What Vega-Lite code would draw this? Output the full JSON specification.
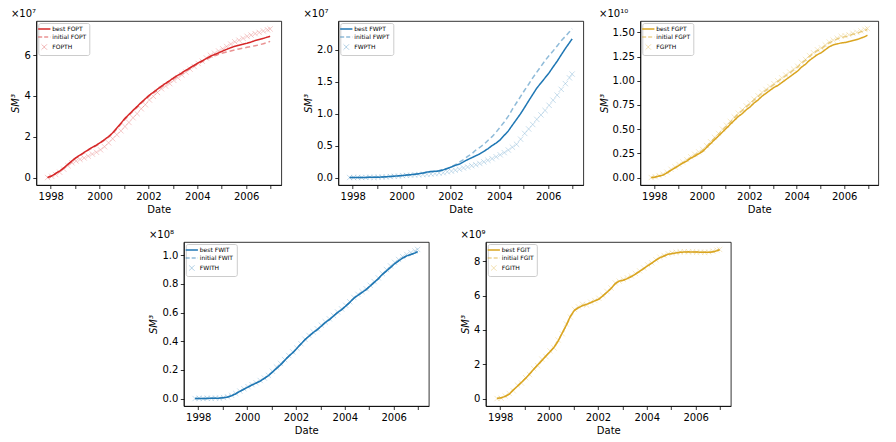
{
"$schema": "https://vega.github.io/schema/vega-lite/v6.json",
"padding": {"left": 10, "top": 8, "right": 5, "bottom": 5},
"datasets": {"w": [
{"d":"1997-11-15","a1":0,"b1":0,"c1":0,"a2":0,"b2":0,"c2":0,"a3":0,"b3":0,"c3":0,"a4":0,"b4":0,"c4":0,"a5":0,"b5":0,"c5":0},
{"d":"1998-01-15","a1":0.08,"b1":0.07,"c1":0.06,"a2":0,"b2":0,"c2":0,"a3":0.005,"b3":0,"c3":0.008,"a4":0,"b4":0,"c4":0.002,"a5":0.05,"b5":0.05,"c5":0.02},
{"d":"1998-03-15","a1":0.2,"b1":0.19,"c1":0.15,"a2":0,"b2":0,"c2":0.002,"a3":0.015,"b3":0.012,"c3":0.02,"a4":0,"b4":0,"c4":0,"a5":0.12,"b5":0.12,"c5":0.15},
{"d":"1998-05-15","a1":0.32,"b1":0.31,"c1":0.26,"a2":0.001,"b2":0.001,"c2":0,"a3":0.025,"b3":0.027,"c3":0.035,"a4":0.001,"b4":0.001,"c4":0.003,"a5":0.25,"b5":0.25,"c5":0.3},
{"d":"1998-07-15","a1":0.47,"b1":0.46,"c1":0.41,"a2":0.002,"b2":0.002,"c2":0.003,"a3":0.05,"b3":0.047,"c3":0.055,"a4":0.002,"b4":0.002,"c4":0.001,"a5":0.5,"b5":0.5,"c5":0.45},
{"d":"1998-09-15","a1":0.65,"b1":0.63,"c1":0.58,"a2":0.003,"b2":0.003,"c2":0.004,"a3":0.075,"b3":0.077,"c3":0.085,"a4":0.002,"b4":0.002,"c4":0.004,"a5":0.72,"b5":0.72,"c5":0.78},
{"d":"1998-11-15","a1":0.82,"b1":0.8,"c1":0.72,"a2":0.004,"b2":0.004,"c2":0.002,"a3":0.1,"b3":0.1,"c3":0.11,"a4":0.003,"b4":0.003,"c4":0.002,"a5":0.95,"b5":0.95,"c5":0.9},
{"d":"1999-01-15","a1":0.98,"b1":0.96,"c1":0.81,"a2":0.005,"b2":0.005,"c2":0.006,"a3":0.125,"b3":0.125,"c3":0.135,"a4":0.006,"b4":0.006,"c4":0.007,"a5":1.18,"b5":1.18,"c5":1.22},
{"d":"1999-03-15","a1":1.1,"b1":1.08,"c1":0.89,"a2":0.008,"b2":0.008,"c2":0.008,"a3":0.15,"b3":0.15,"c3":0.16,"a4":0.01,"b4":0.01,"c4":0.012,"a5":1.43,"b5":1.43,"c5":1.4},
{"d":"1999-05-15","a1":1.23,"b1":1.21,"c1":0.96,"a2":0.012,"b2":0.012,"c2":0.01,"a3":0.17,"b3":0.175,"c3":0.185,"a4":0.02,"b4":0.02,"c4":0.022,"a5":1.7,"b5":1.7,"c5":1.75},
{"d":"1999-07-15","a1":1.36,"b1":1.34,"c1":1.05,"a2":0.016,"b2":0.016,"c2":0.015,"a3":0.2,"b3":0.205,"c3":0.215,"a4":0.033,"b4":0.033,"c4":0.036,"a5":1.96,"b5":1.96,"c5":1.92},
{"d":"1999-09-15","a1":1.48,"b1":1.46,"c1":1.15,"a2":0.021,"b2":0.021,"c2":0.02,"a3":0.22,"b3":0.23,"c3":0.24,"a4":0.05,"b4":0.05,"c4":0.052,"a5":2.22,"b5":2.22,"c5":2.3},
{"d":"1999-11-15","a1":1.59,"b1":1.57,"c1":1.24,"a2":0.026,"b2":0.026,"c2":0.022,"a3":0.245,"b3":0.255,"c3":0.265,"a4":0.065,"b4":0.065,"c4":0.068,"a5":2.48,"b5":2.48,"c5":2.45},
{"d":"2000-01-15","a1":1.72,"b1":1.69,"c1":1.36,"a2":0.031,"b2":0.031,"c2":0.03,"a3":0.27,"b3":0.28,"c3":0.29,"a4":0.08,"b4":0.08,"c4":0.083,"a5":2.73,"b5":2.73,"c5":2.78},
{"d":"2000-03-15","a1":1.86,"b1":1.83,"c1":1.51,"a2":0.038,"b2":0.038,"c2":0.034,"a3":0.31,"b3":0.32,"c3":0.33,"a4":0.095,"b4":0.095,"c4":0.097,"a5":3.0,"b5":3.0,"c5":2.95},
{"d":"2000-05-15","a1":2.01,"b1":1.98,"c1":1.7,"a2":0.044,"b2":0.044,"c2":0.038,"a3":0.35,"b3":0.36,"c3":0.37,"a4":0.108,"b4":0.108,"c4":0.11,"a5":3.35,"b5":3.35,"c5":3.42},
{"d":"2000-07-15","a1":2.19,"b1":2.16,"c1":1.9,"a2":0.051,"b2":0.051,"c2":0.041,"a3":0.39,"b3":0.405,"c3":0.415,"a4":0.122,"b4":0.122,"c4":0.126,"a5":3.82,"b5":3.82,"c5":3.78},
{"d":"2000-09-15","a1":2.43,"b1":2.39,"c1":2.1,"a2":0.06,"b2":0.06,"c2":0.045,"a3":0.43,"b3":0.445,"c3":0.455,"a4":0.14,"b4":0.14,"c4":0.143,"a5":4.28,"b5":4.28,"c5":4.35},
{"d":"2000-11-15","a1":2.66,"b1":2.62,"c1":2.29,"a2":0.07,"b2":0.07,"c2":0.048,"a3":0.47,"b3":0.49,"c3":0.5,"a4":0.16,"b4":0.16,"c4":0.162,"a5":4.8,"b5":4.8,"c5":4.75},
{"d":"2001-01-15","a1":2.9,"b1":2.86,"c1":2.5,"a2":0.085,"b2":0.08,"c2":0.05,"a3":0.51,"b3":0.53,"c3":0.54,"a4":0.185,"b4":0.185,"c4":0.19,"a5":5.15,"b5":5.15,"c5":5.2},
{"d":"2001-03-15","a1":3.09,"b1":3.05,"c1":2.7,"a2":0.095,"b2":0.09,"c2":0.055,"a3":0.55,"b3":0.57,"c3":0.58,"a4":0.21,"b4":0.21,"c4":0.22,"a5":5.3,"b5":5.3,"c5":5.35},
{"d":"2001-05-15","a1":3.29,"b1":3.25,"c1":2.93,"a2":0.097,"b2":0.1,"c2":0.062,"a3":0.59,"b3":0.615,"c3":0.625,"a4":0.235,"b4":0.235,"c4":0.245,"a5":5.42,"b5":5.42,"c5":5.5},
{"d":"2001-07-15","a1":3.48,"b1":3.44,"c1":3.13,"a2":0.102,"b2":0.11,"c2":0.07,"a3":0.63,"b3":0.655,"c3":0.665,"a4":0.265,"b4":0.265,"c4":0.272,"a5":5.5,"b5":5.5,"c5":5.45},
{"d":"2001-09-15","a1":3.68,"b1":3.64,"c1":3.37,"a2":0.12,"b2":0.125,"c2":0.075,"a3":0.66,"b3":0.69,"c3":0.7,"a4":0.295,"b4":0.295,"c4":0.3,"a5":5.6,"b5":5.6,"c5":5.62},
{"d":"2001-11-15","a1":3.86,"b1":3.82,"c1":3.57,"a2":0.14,"b2":0.145,"c2":0.09,"a3":0.7,"b3":0.73,"c3":0.74,"a4":0.32,"b4":0.32,"c4":0.325,"a5":5.7,"b5":5.7,"c5":5.72},
{"d":"2002-01-15","a1":4.04,"b1":4.0,"c1":3.8,"a2":0.165,"b2":0.17,"c2":0.1,"a3":0.73,"b3":0.76,"c3":0.77,"a4":0.35,"b4":0.35,"c4":0.352,"a5":5.8,"b5":5.8,"c5":5.85},
{"d":"2002-03-15","a1":4.18,"b1":4.14,"c1":3.98,"a2":0.19,"b2":0.2,"c2":0.115,"a3":0.77,"b3":0.8,"c3":0.81,"a4":0.38,"b4":0.38,"c4":0.383,"a5":5.99,"b5":5.99,"c5":6.02},
{"d":"2002-05-15","a1":4.33,"b1":4.29,"c1":4.17,"a2":0.21,"b2":0.24,"c2":0.13,"a3":0.8,"b3":0.835,"c3":0.845,"a4":0.41,"b4":0.41,"c4":0.414,"a5":6.2,"b5":6.2,"c5":6.25},
{"d":"2002-07-15","a1":4.48,"b1":4.44,"c1":4.35,"a2":0.245,"b2":0.28,"c2":0.15,"a3":0.84,"b3":0.87,"c3":0.88,"a4":0.435,"b4":0.435,"c4":0.44,"a5":6.42,"b5":6.42,"c5":6.45},
{"d":"2002-09-15","a1":4.62,"b1":4.58,"c1":4.48,"a2":0.28,"b2":0.33,"c2":0.165,"a3":0.87,"b3":0.9,"c3":0.91,"a4":0.46,"b4":0.46,"c4":0.465,"a5":6.7,"b5":6.7,"c5":6.75},
{"d":"2002-11-15","a1":4.75,"b1":4.71,"c1":4.6,"a2":0.31,"b2":0.37,"c2":0.185,"a3":0.9,"b3":0.93,"c3":0.94,"a4":0.48,"b4":0.48,"c4":0.487,"a5":6.86,"b5":6.86,"c5":6.85},
{"d":"2003-01-15","a1":4.89,"b1":4.85,"c1":4.76,"a2":0.34,"b2":0.43,"c2":0.2,"a3":0.93,"b3":0.96,"c3":0.97,"a4":0.505,"b4":0.505,"c4":0.512,"a5":6.9,"b5":6.9,"c5":6.95},
{"d":"2003-03-15","a1":5.01,"b1":4.97,"c1":4.89,"a2":0.37,"b2":0.47,"c2":0.22,"a3":0.95,"b3":0.99,"c3":1.0,"a4":0.53,"b4":0.53,"c4":0.535,"a5":7.0,"b5":7.0,"c5":7.05},
{"d":"2003-05-15","a1":5.13,"b1":5.09,"c1":5.03,"a2":0.41,"b2":0.52,"c2":0.245,"a3":0.98,"b3":1.02,"c3":1.03,"a4":0.55,"b4":0.55,"c4":0.556,"a5":7.12,"b5":7.12,"c5":7.15},
{"d":"2003-07-15","a1":5.26,"b1":5.22,"c1":5.17,"a2":0.45,"b2":0.58,"c2":0.27,"a3":1.01,"b3":1.05,"c3":1.06,"a4":0.575,"b4":0.575,"c4":0.58,"a5":7.26,"b5":7.26,"c5":7.3},
{"d":"2003-09-15","a1":5.38,"b1":5.34,"c1":5.31,"a2":0.5,"b2":0.64,"c2":0.295,"a3":1.04,"b3":1.08,"c3":1.09,"a4":0.6,"b4":0.6,"c4":0.604,"a5":7.42,"b5":7.42,"c5":7.45},
{"d":"2003-11-15","a1":5.5,"b1":5.46,"c1":5.44,"a2":0.54,"b2":0.71,"c2":0.325,"a3":1.07,"b3":1.11,"c3":1.12,"a4":0.62,"b4":0.62,"c4":0.625,"a5":7.58,"b5":7.58,"c5":7.62},
{"d":"2004-01-15","a1":5.62,"b1":5.58,"c1":5.59,"a2":0.59,"b2":0.79,"c2":0.355,"a3":1.1,"b3":1.14,"c3":1.15,"a4":0.645,"b4":0.645,"c4":0.65,"a5":7.75,"b5":7.75,"c5":7.8},
{"d":"2004-03-15","a1":5.72,"b1":5.68,"c1":5.7,"a2":0.66,"b2":0.87,"c2":0.39,"a3":1.14,"b3":1.18,"c3":1.19,"a4":0.67,"b4":0.67,"c4":0.675,"a5":7.9,"b5":7.9,"c5":7.92},
{"d":"2004-05-15","a1":5.83,"b1":5.79,"c1":5.86,"a2":0.73,"b2":0.96,"c2":0.43,"a3":1.17,"b3":1.21,"c3":1.22,"a4":0.7,"b4":0.7,"c4":0.705,"a5":8.07,"b5":8.07,"c5":8.1},
{"d":"2004-07-15","a1":5.94,"b1":5.89,"c1":5.99,"a2":0.82,"b2":1.07,"c2":0.475,"a3":1.21,"b3":1.25,"c3":1.26,"a4":0.72,"b4":0.72,"c4":0.727,"a5":8.22,"b5":8.22,"c5":8.25},
{"d":"2004-09-15","a1":6.03,"b1":5.97,"c1":6.09,"a2":0.91,"b2":1.17,"c2":0.52,"a3":1.24,"b3":1.28,"c3":1.29,"a4":0.74,"b4":0.74,"c4":0.746,"a5":8.32,"b5":8.32,"c5":8.35},
{"d":"2004-11-15","a1":6.11,"b1":6.04,"c1":6.2,"a2":1.0,"b2":1.27,"c2":0.6,"a3":1.27,"b3":1.31,"c3":1.32,"a4":0.76,"b4":0.76,"c4":0.766,"a5":8.42,"b5":8.42,"c5":8.45},
{"d":"2005-01-15","a1":6.2,"b1":6.1,"c1":6.31,"a2":1.1,"b2":1.37,"c2":0.69,"a3":1.29,"b3":1.33,"c3":1.34,"a4":0.785,"b4":0.785,"c4":0.79,"a5":8.46,"b5":8.46,"c5":8.5},
{"d":"2005-03-15","a1":6.28,"b1":6.15,"c1":6.42,"a2":1.2,"b2":1.46,"c2":0.76,"a3":1.32,"b3":1.36,"c3":1.37,"a4":0.81,"b4":0.81,"c4":0.816,"a5":8.5,"b5":8.5,"c5":8.53},
{"d":"2005-05-15","a1":6.36,"b1":6.2,"c1":6.54,"a2":1.3,"b2":1.56,"c2":0.83,"a3":1.35,"b3":1.39,"c3":1.4,"a4":0.835,"b4":0.835,"c4":0.842,"a5":8.53,"b5":8.53,"c5":8.55},
{"d":"2005-07-15","a1":6.43,"b1":6.25,"c1":6.65,"a2":1.4,"b2":1.65,"c2":0.91,"a3":1.37,"b3":1.41,"c3":1.42,"a4":0.865,"b4":0.865,"c4":0.872,"a5":8.55,"b5":8.55,"c5":8.57},
{"d":"2005-09-15","a1":6.48,"b1":6.3,"c1":6.73,"a2":1.48,"b2":1.74,"c2":0.98,"a3":1.38,"b3":1.43,"c3":1.44,"a4":0.89,"b4":0.89,"c4":0.9,"a5":8.56,"b5":8.56,"c5":8.56},
{"d":"2005-11-15","a1":6.53,"b1":6.34,"c1":6.82,"a2":1.56,"b2":1.83,"c2":1.05,"a3":1.39,"b3":1.45,"c3":1.46,"a4":0.915,"b4":0.915,"c4":0.925,"a5":8.55,"b5":8.55,"c5":8.56},
{"d":"2006-01-15","a1":6.58,"b1":6.38,"c1":6.92,"a2":1.64,"b2":1.91,"c2":1.13,"a3":1.395,"b3":1.455,"c3":1.465,"a4":0.94,"b4":0.94,"c4":0.95,"a5":8.55,"b5":8.55,"c5":8.54},
{"d":"2006-03-15","a1":6.64,"b1":6.42,"c1":6.98,"a2":1.73,"b2":1.98,"c2":1.21,"a3":1.405,"b3":1.465,"c3":1.475,"a4":0.96,"b4":0.96,"c4":0.97,"a5":8.54,"b5":8.54,"c5":8.55},
{"d":"2006-05-15","a1":6.71,"b1":6.46,"c1":7.05,"a2":1.82,"b2":2.06,"c2":1.29,"a3":1.415,"b3":1.48,"c3":1.49,"a4":0.98,"b4":0.98,"c4":0.99,"a5":8.54,"b5":8.54,"c5":8.53},
{"d":"2006-07-15","a1":6.76,"b1":6.5,"c1":7.11,"a2":1.92,"b2":2.14,"c2":1.38,"a3":1.425,"b3":1.49,"c3":1.5,"a4":0.995,"b4":0.995,"c4":1.005,"a5":8.53,"b5":8.53,"c5":8.55},
{"d":"2006-09-15","a1":6.82,"b1":6.56,"c1":7.18,"a2":2.02,"b2":2.21,"c2":1.47,"a3":1.44,"b3":1.505,"c3":1.515,"a4":1.005,"b4":1.005,"c4":1.018,"a5":8.56,"b5":8.56,"c5":8.6},
{"d":"2006-11-15","a1":6.88,"b1":6.62,"c1":7.24,"a2":2.11,"b2":2.28,"c2":1.56,"a3":1.455,"b3":1.52,"c3":1.53,"a4":1.015,"b4":1.015,"c4":1.03,"a5":8.63,"b5":8.63,"c5":8.66},
{"d":"2006-12-25","a1":6.92,"b1":6.67,"c1":7.28,"a2":2.17,"b2":2.33,"c2":1.62,"a3":1.47,"b3":1.53,"c3":1.54,"a4":1.025,"b4":1.025,"c4":1.04,"a5":8.68,"b5":8.68,"c5":8.7}
]},
"config": {
  "font": "DejaVu Sans",
  "view": {"stroke": "#000", "strokeWidth": 0.8},
  "axis": {"grid": false, "domainColor": "#000", "domainWidth": 0.8, "tickColor": "#000", "tickWidth": 0.8, "tickSize": 3.5, "labelFontSize": 10, "labelColor": "#000", "labelFont": "DejaVu Sans", "titleFont": "DejaVu Sans", "titleFontSize": 10, "titleFontWeight": "normal", "titleColor": "#000", "labelPadding": 2.5, "titlePadding": 3},
  "title": {"anchor": "start", "fontSize": 10, "fontWeight": "normal", "font": "DejaVu Sans", "offset": 2, "color": "#000"},
  "legend": {"orient": "top-left", "offset": 2, "padding": 3, "strokeColor": "#cccccc", "fillColor": "rgba(255,255,255,0.8)", "cornerRadius": 2, "labelFontSize": 6, "labelFont": "DejaVu Sans", "labelColor": "#000", "symbolSize": 150, "symbolStrokeWidth": 1.5, "rowPadding": 2, "labelOffset": 5}
},
"resolve": {"scale": {"color": "independent", "strokeDash": "independent", "x": "independent", "y": "independent"}, "legend": {"color": "independent", "strokeDash": "independent"}},
"spacing": 14,
"center": true,
"vconcat": [
{"hconcat": [
 {"width": 245, "height": 164, "title": {"text": "×10⁷"}, "data": {"name": "w"},
  "transform": [{"fold": ["a1", "b1", "c1"], "as": ["s", "v"]}],
  "encoding": {
   "x": {"field": "d", "type": "temporal", "title": "Date", "scale": {"domain": [{"year": 1997, "month": 5, "date": 30}, {"year": 2007, "month": 6, "date": 10}]}, "axis": {"tickCount": {"interval": "year", "step": 1}, "format": "%Y", "labelExpr": "year(datum.value) % 2 == 0 ? datum.label : ''", "labelOverlap": false, "labelFlush": false}},
   "y": {"field": "v", "type": "quantitative", "title": "SM³", "scale": {"domain": [-0.365, 7.67], "nice": false, "zero": false}, "axis": {"values": [0, 2, 4, 6], "format": "d", "titleFontStyle": "italic"}},
   "color": {"field": "s", "type": "nominal", "scale": {"domain": ["a1", "b1", "c1"], "range": ["#d62728", "rgba(214,39,40,0.5)", "rgba(214,39,40,0.35)"]},
     "legend": {"title": null, "labelExpr": "datum.value == 'a1' ? 'best FOPT' : datum.value == 'b1' ? 'initial FOPT' : 'FOPTH'",
       "encode": {"symbols": {"update": {"shape": {"signal": "datum.value == 'c1' ? 'M-1,-1L1,1M-1,1L1,-1' : 'stroke'"}, "strokeDash": {"signal": "datum.value == 'b1' ? [4,2] : [1,0]"}, "strokeWidth": {"signal": "datum.value == 'c1' ? 1 : 1.5"}, "fill": {"value": "transparent"}, "size": {"signal": "datum.value == 'c1' ? 30 : 150"}}}}}}
  },
  "layer": [
   {"transform": [{"filter": "datum.s != 'c1'"}], "mark": {"type": "line", "strokeWidth": 1.5}, "encoding": {"strokeDash": {"field": "s", "type": "nominal", "scale": {"domain": ["a1", "b1"], "range": [[1, 0], [5, 3]]}, "legend": null}}},
   {"transform": [{"filter": "datum.s == 'c1'"}], "mark": {"type": "point", "shape": "M-1,-1L1,1M-1,1L1,-1", "filled": false, "size": 28, "strokeWidth": 1}, "encoding": {}}
  ]
 },
 {"width": 245, "height": 164, "title": {"text": "×10⁷"}, "data": {"name": "w"},
  "transform": [{"fold": ["a2", "b2", "c2"], "as": ["s", "v"]}],
  "encoding": {
   "x": {"field": "d", "type": "temporal", "title": "Date", "scale": {"domain": [{"year": 1997, "month": 5, "date": 30}, {"year": 2007, "month": 6, "date": 10}]}, "axis": {"tickCount": {"interval": "year", "step": 1}, "format": "%Y", "labelExpr": "year(datum.value) % 2 == 0 ? datum.label : ''", "labelOverlap": false, "labelFlush": false}},
   "y": {"field": "v", "type": "quantitative", "title": "SM³", "scale": {"domain": [-0.117, 2.45], "nice": false, "zero": false}, "axis": {"values": [0, 0.5, 1, 1.5, 2], "format": ".1f", "titleFontStyle": "italic"}},
   "color": {"field": "s", "type": "nominal", "scale": {"domain": ["a2", "b2", "c2"], "range": ["#1f77b4", "rgba(31,119,180,0.5)", "rgba(31,119,180,0.35)"]},
     "legend": {"title": null, "labelExpr": "datum.value == 'a2' ? 'best FWPT' : datum.value == 'b2' ? 'initial FWPT' : 'FWPTH'",
       "encode": {"symbols": {"update": {"shape": {"signal": "datum.value == 'c2' ? 'M-1,-1L1,1M-1,1L1,-1' : 'stroke'"}, "strokeDash": {"signal": "datum.value == 'b2' ? [4,2] : [1,0]"}, "strokeWidth": {"signal": "datum.value == 'c2' ? 1 : 1.5"}, "fill": {"value": "transparent"}, "size": {"signal": "datum.value == 'c2' ? 30 : 150"}}}}}}
  },
  "layer": [
   {"transform": [{"filter": "datum.s != 'c2'"}], "mark": {"type": "line", "strokeWidth": 1.5}, "encoding": {"strokeDash": {"field": "s", "type": "nominal", "scale": {"domain": ["a2", "b2"], "range": [[1, 0], [5, 3]]}, "legend": null}}},
   {"transform": [{"filter": "datum.s == 'c2'"}], "mark": {"type": "point", "shape": "M-1,-1L1,1M-1,1L1,-1", "filled": false, "size": 28, "strokeWidth": 1}, "encoding": {}}
  ]
 },
 {"width": 238, "height": 164, "title": {"text": "×10¹⁰"}, "data": {"name": "w"},
  "transform": [{"fold": ["a3", "b3", "c3"], "as": ["s", "v"]}],
  "encoding": {
   "x": {"field": "d", "type": "temporal", "title": "Date", "scale": {"domain": [{"year": 1997, "month": 5, "date": 30}, {"year": 2007, "month": 6, "date": 10}]}, "axis": {"tickCount": {"interval": "year", "step": 1}, "format": "%Y", "labelExpr": "year(datum.value) % 2 == 0 ? datum.label : ''", "labelOverlap": false, "labelFlush": false}},
   "y": {"field": "v", "type": "quantitative", "title": "SM³", "scale": {"domain": [-0.077, 1.617], "nice": false, "zero": false}, "axis": {"values": [0, 0.25, 0.5, 0.75, 1, 1.25, 1.5], "format": ".2f", "titleFontStyle": "italic"}},
   "color": {"field": "s", "type": "nominal", "scale": {"domain": ["a3", "b3", "c3"], "range": ["#daa520", "rgba(218,165,32,0.5)", "rgba(218,165,32,0.35)"]},
     "legend": {"title": null, "labelExpr": "datum.value == 'a3' ? 'best FGPT' : datum.value == 'b3' ? 'initial FGPT' : 'FGPTH'",
       "encode": {"symbols": {"update": {"shape": {"signal": "datum.value == 'c3' ? 'M-1,-1L1,1M-1,1L1,-1' : 'stroke'"}, "strokeDash": {"signal": "datum.value == 'b3' ? [4,2] : [1,0]"}, "strokeWidth": {"signal": "datum.value == 'c3' ? 1 : 1.5"}, "fill": {"value": "transparent"}, "size": {"signal": "datum.value == 'c3' ? 30 : 150"}}}}}}
  },
  "layer": [
   {"transform": [{"filter": "datum.s != 'c3'"}], "mark": {"type": "line", "strokeWidth": 1.5}, "encoding": {"strokeDash": {"field": "s", "type": "nominal", "scale": {"domain": ["a3", "b3"], "range": [[1, 0], [5, 3]]}, "legend": null}}},
   {"transform": [{"filter": "datum.s == 'c3'"}], "mark": {"type": "point", "shape": "M-1,-1L1,1M-1,1L1,-1", "filled": false, "size": 28, "strokeWidth": 1}, "encoding": {}}
  ]
 }
], "bounds": "flush", "spacing": 57,
 "resolve": {"scale": {"color": "independent", "strokeDash": "independent", "x": "independent", "y": "independent"}, "legend": {"color": "independent", "strokeDash": "independent"}}},
{"hconcat": [
 {"width": 245, "height": 164, "title": {"text": "×10⁸"}, "data": {"name": "w"},
  "transform": [{"fold": ["a4", "b4", "c4"], "as": ["s", "v"]}],
  "encoding": {
   "x": {"field": "d", "type": "temporal", "title": "Date", "scale": {"domain": [{"year": 1997, "month": 5, "date": 30}, {"year": 2007, "month": 6, "date": 10}]}, "axis": {"tickCount": {"interval": "year", "step": 1}, "format": "%Y", "labelExpr": "year(datum.value) % 2 == 0 ? datum.label : ''", "labelOverlap": false, "labelFlush": false}},
   "y": {"field": "v", "type": "quantitative", "title": "SM³", "scale": {"domain": [-0.052, 1.092], "nice": false, "zero": false}, "axis": {"values": [0, 0.2, 0.4, 0.6, 0.8, 1.0], "format": ".1f", "titleFontStyle": "italic"}},
   "color": {"field": "s", "type": "nominal", "scale": {"domain": ["a4", "b4", "c4"], "range": ["#1f77b4", "rgba(31,119,180,0.5)", "rgba(31,119,180,0.35)"]},
     "legend": {"title": null, "labelExpr": "datum.value == 'a4' ? 'best FWIT' : datum.value == 'b4' ? 'initial FWIT' : 'FWITH'",
       "encode": {"symbols": {"update": {"shape": {"signal": "datum.value == 'c4' ? 'M-1,-1L1,1M-1,1L1,-1' : 'stroke'"}, "strokeDash": {"signal": "datum.value == 'b4' ? [4,2] : [1,0]"}, "strokeWidth": {"signal": "datum.value == 'c4' ? 1 : 1.5"}, "fill": {"value": "transparent"}, "size": {"signal": "datum.value == 'c4' ? 30 : 150"}}}}}}
  },
  "layer": [
   {"transform": [{"filter": "datum.s != 'c4'"}], "mark": {"type": "line", "strokeWidth": 1.5}, "encoding": {"strokeDash": {"field": "s", "type": "nominal", "scale": {"domain": ["a4", "b4"], "range": [[1, 0], [5, 3]]}, "legend": null}}},
   {"transform": [{"filter": "datum.s == 'c4'"}], "mark": {"type": "point", "shape": "M-1,-1L1,1M-1,1L1,-1", "filled": false, "size": 28, "strokeWidth": 1}, "encoding": {}}
  ]
 },
 {"width": 245, "height": 164, "title": {"text": "×10⁹"}, "data": {"name": "w"},
  "transform": [{"fold": ["a5", "b5", "c5"], "as": ["s", "v"]}],
  "encoding": {
   "x": {"field": "d", "type": "temporal", "title": "Date", "scale": {"domain": [{"year": 1997, "month": 5, "date": 30}, {"year": 2007, "month": 6, "date": 10}]}, "axis": {"tickCount": {"interval": "year", "step": 1}, "format": "%Y", "labelExpr": "year(datum.value) % 2 == 0 ? datum.label : ''", "labelOverlap": false, "labelFlush": false}},
   "y": {"field": "v", "type": "quantitative", "title": "SM³", "scale": {"domain": [-0.435, 9.135], "nice": false, "zero": false}, "axis": {"values": [0, 2, 4, 6, 8], "format": "d", "titleFontStyle": "italic"}},
   "color": {"field": "s", "type": "nominal", "scale": {"domain": ["a5", "b5", "c5"], "range": ["#daa520", "rgba(218,165,32,0.5)", "rgba(218,165,32,0.35)"]},
     "legend": {"title": null, "labelExpr": "datum.value == 'a5' ? 'best FGIT' : datum.value == 'b5' ? 'initial FGIT' : 'FGITH'",
       "encode": {"symbols": {"update": {"shape": {"signal": "datum.value == 'c5' ? 'M-1,-1L1,1M-1,1L1,-1' : 'stroke'"}, "strokeDash": {"signal": "datum.value == 'b5' ? [4,2] : [1,0]"}, "strokeWidth": {"signal": "datum.value == 'c5' ? 1 : 1.5"}, "fill": {"value": "transparent"}, "size": {"signal": "datum.value == 'c5' ? 30 : 150"}}}}}}
  },
  "layer": [
   {"transform": [{"filter": "datum.s != 'c5'"}], "mark": {"type": "line", "strokeWidth": 1.5}, "encoding": {"strokeDash": {"field": "s", "type": "nominal", "scale": {"domain": ["a5", "b5"], "range": [[1, 0], [5, 3]]}, "legend": null}}},
   {"transform": [{"filter": "datum.s == 'c5'"}], "mark": {"type": "point", "shape": "M-1,-1L1,1M-1,1L1,-1", "filled": false, "size": 28, "strokeWidth": 1}, "encoding": {}}
  ]
 }
], "bounds": "flush", "spacing": 57,
 "resolve": {"scale": {"color": "independent", "strokeDash": "independent", "x": "independent", "y": "independent"}, "legend": {"color": "independent", "strokeDash": "independent"}}}
]
}
